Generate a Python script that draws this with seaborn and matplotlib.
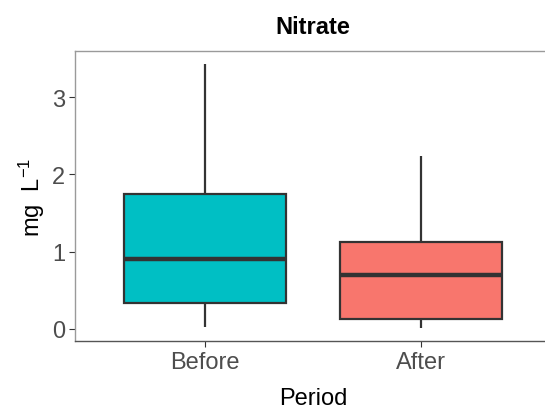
import numpy as np
import pandas as pd
import matplotlib
matplotlib.use("Agg")
import matplotlib.pyplot as plt
import seaborn as sns

# Five-number summaries (min, Q1, median, Q3, max) of nitrate, mg/L
periods = ["Before", "After"]
before_vals = [0.02, 0.33, 0.90, 1.75, 3.43]
after_vals = [0.01, 0.12, 0.69, 1.12, 2.24]
colors = {"Before": "#00BFC4", "After": "#F8766D"}

df = pd.DataFrame({
    "Period": ["Before"] * len(before_vals) + ["After"] * len(after_vals),
    "Nitrate": before_vals + after_vals,
})

sns.set_theme(style="white")
plt.rcParams["font.family"] = ["Liberation Sans", "DejaVu Sans"]
plt.rcParams["mathtext.fontset"] = "custom"
plt.rcParams["mathtext.rm"] = "Liberation Sans"
plt.rcParams["mathtext.it"] = "Liberation Sans"

fig = plt.figure(figsize=(5.45, 4.10), dpi=100)
ax = fig.add_axes([75 / 545, 68 / 410, 476 / 545, 290 / 410])

line_c = "#333333"
sns.boxplot(
    data=df, x="Period", y="Nitrate", hue="Period", order=periods,
    hue_order=periods, palette=colors, width=0.75, whis=1.5,
    showcaps=False, linecolor=line_c, linewidth=1.6, legend=False,
    saturation=1, ax=ax,
    medianprops={"linewidth": 3.2, "color": line_c},
    whiskerprops={"linewidth": 1.6, "color": line_c},
    boxprops={"linewidth": 1.6, "edgecolor": line_c},
)

ymin, ymax = min(before_vals + after_vals), max(before_vals + after_vals)
pad = 0.05 * (ymax - ymin)
ax.set_ylim(ymin - pad, ymax + pad)
ax.set_xlim(-0.6, 1.6)
ax.set_yticks([0, 1, 2, 3])

for side in ["left", "top"]:
    ax.spines[side].set_color("#9A9A9A")
    ax.spines[side].set_linewidth(1.0)
ax.spines["right"].set_visible(False)
ax.spines["bottom"].set_color("#555555")
ax.spines["bottom"].set_linewidth(1.0)

ax.tick_params(axis="both", which="major", length=4, width=0.8,
               color="#333333", labelsize=17, labelcolor="#4D4D4D", pad=3,
               left=True, bottom=True)

ax.set_title("Nitrate", fontsize=17, fontweight="bold", color="black", pad=13)
ax.set_xlabel("Period", fontsize=17, color="black", labelpad=10)
ax.set_ylabel(r"mg  L$^{-1}$", fontsize=17, color="black", labelpad=4)

fig.savefig("out.png", dpi=100)
